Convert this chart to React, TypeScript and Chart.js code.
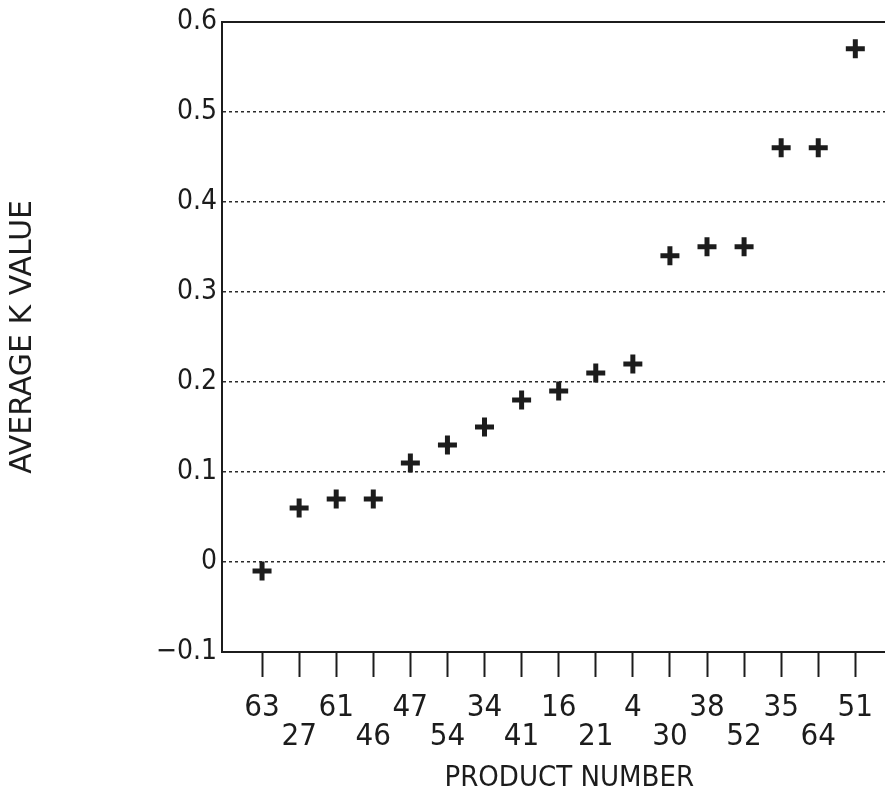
import React, { useEffect, useRef } from "react";
import { Chart, registerables } from "chart.js";

Chart.register(...registerables);

const CATEGORIES = ["63", "27", "61", "46", "47", "54", "34", "41", "16", "21", "4", "30", "38", "52", "35", "64", "51"];
const VALUES = [-0.01, 0.06, 0.07, 0.07, 0.11, 0.13, 0.15, 0.18, 0.19, 0.21, 0.22, 0.34, 0.35, 0.35, 0.46, 0.46, 0.57];
const Y_MIN = -0.1;
const Y_MAX = 0.6;
const Y_STEP = 0.1;
const X_TITLE = "PRODUCT NUMBER";
const Y_TITLE = "AVERAGE K VALUE";

const INK = "#1c1c1c";
const NARROW = '"Liberation Sans Narrow", "DejaVu Sans Condensed", "Roboto Condensed", "Liberation Sans", sans-serif';

export default function App() {
  const ref = useRef<HTMLCanvasElement | null>(null);

  useEffect(() => {
    if (!ref.current) return;
    const chart = new Chart(ref.current, {
      type: "scatter",
      data: {
        datasets: [
          {
            data: VALUES.map((v, i) => ({ x: i, y: v })),
            pointStyle: "cross",
            pointRadius: 9.5,
            pointHoverRadius: 9.5,
            pointBorderWidth: 5,
            pointHoverBorderWidth: 5,
            borderColor: INK,
            backgroundColor: INK,
            showLine: false,
          },
        ],
      },
      options: {
        responsive: false,
        animation: false,
        events: [],
        layout: { padding: { left: 0, right: 4, top: 19, bottom: 0 } },
        plugins: { legend: { display: false }, tooltip: { enabled: false } },
        scales: {
          x: {
            type: "linear",
            position: "bottom",
            min: -1.08,
            max: 17.65,
            afterBuildTicks: (scale: any) => {
              scale.ticks = CATEGORIES.map((_, i) => ({ value: i }));
            },
            afterFit: (scale: any) => {
              scale.height = 142;
            },
            grid: {
              drawOnChartArea: false,
              drawTicks: true,
              tickLength: 25,
              tickWidth: 2,
              tickColor: INK,
            },
            border: { display: true, color: INK, width: 2 },
            ticks: {
              autoSkip: false,
              maxRotation: 0,
              minRotation: 0,
              padding: 16,
              color: INK,
              font: { family: NARROW, size: 31, lineHeight: 0.94 },
              callback: (value: any) => {
                const i = Math.round(Number(value));
                const label = CATEGORIES[i] ?? "";
                return i % 2 === 0 ? [label, ""] : ["", label];
              },
            },
            title: {
              display: true,
              text: X_TITLE,
              color: INK,
              font: { family: NARROW, size: 29, lineHeight: 1.0 },
              padding: { top: 0, bottom: 1 },
            },
          },
          x2: {
            type: "linear",
            position: "top",
            min: 0,
            max: 1,
            grid: { display: false, drawTicks: false },
            ticks: { display: false },
            border: { display: true, color: INK, width: 2 },
          },
          y: {
            type: "linear",
            min: Y_MIN,
            max: Y_MAX,
            afterBuildTicks: (scale: any) => {
              const t: any[] = [];
              for (let k = 0; k <= Math.round((Y_MAX - Y_MIN) / Y_STEP); k++) {
                t.push({ value: Math.round((Y_MIN + k * Y_STEP) * 10) / 10 });
              }
              scale.ticks = t;
            },
            afterFit: (scale: any) => {
              scale.width = 222;
            },
            grid: {
              drawTicks: false,
              color: "#2a2a2a",
              lineWidth: 1.5,
            },
            border: { display: true, color: INK, width: 2, dash: [3, 3] },
            ticks: {
              padding: 5,
              color: INK,
              font: { family: NARROW, size: 28 },
              callback: (value: any) => {
                const v = Math.round(Number(value) * 10) / 10;
                if (v === 0) return "0";
                return v.toFixed(1).replace("-", "\u2212");
              },
            },
            title: {
              display: true,
              text: Y_TITLE,
              color: INK,
              font: { family: '"DejaVu Sans", sans-serif', size: 30, lineHeight: 1.2 },
              padding: { top: 5, bottom: 0 },
            },
          },
        },
      },
    });
    return () => chart.destroy();
  }, []);

  return (
    <div style={{ position: "fixed", left: 0, top: 0, width: 885, height: 794, overflow: "hidden", background: "#fff" }}>
      <canvas ref={ref} width={931} height={794} style={{ display: "block", width: 931, height: 794 }} />
    </div>
  );
}
